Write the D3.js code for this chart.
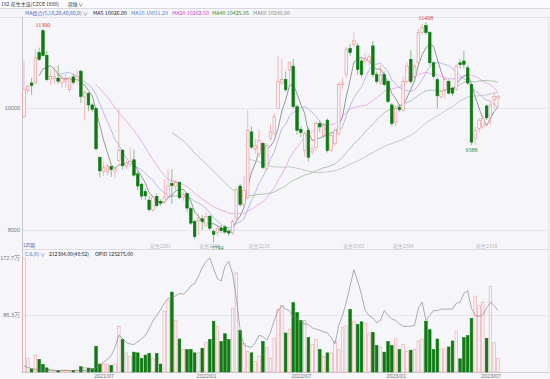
<!DOCTYPE html>
<html>
<head>
<meta charset="utf-8">
<script src="https://cdn.jsdelivr.net/npm/d3@7"></script>
<style>
  body { margin: 0; background: #f6f6fa; }
  svg { display: block; font-family: "Noto Sans CJK SC", "Noto Sans", sans-serif; }
</style>
</head>
<body>
<div id="chart"></div>
<script>
// weekly candles, peanut main contract
var opens = [9856,10288,10410,10410,10908,11267,10863,10465,10480,10490,10420,10440,10300,10510,10470,10603,10180,10240,10050,9990,
  9192,8960,8950,9040,8960,9140,9310,9050,9080,9150,8920,8750,8630,8490,8330,8550,8470,8460,8550,8760,
  8720,8780,8530,8600,8350,8141,8150,8185,8075,8225,7975,7960,8030,8050,7980,7950,8200,8720,8420,8530,
  9608,9330,9250,9420,9000,9497,9580,9995,10410,10465,10620,10686,10022,9650,9303,9635,9280,9358,9746,9552,
  9801,9303,9414,9580,10382,10548,10974,11046,11018,10770,10770,10770,11018,10548,10410,10548,10437,10050,9770,10010,
  9967,10437,10797,10520,10742,11240,11350,11240,10742,10465,10188,10300,10437,10327,10299,10740,10770,10659,10382,9497,
  9663,9690,10033,9850,10133,10160];
var highs = [10769,10380,10493,10963,10990,11300,10935,10620,10680,10700,10550,10560,10520,10560,10620,10630,10290,10260,10080,10010,
  9200,9120,9080,9060,9050,9995,9320,9130,9350,9320,8960,8780,8680,8560,8560,8600,8500,8830,9000,9000,
  8820,8800,8640,8610,8380,8170,8260,8250,8300,8250,8010,8060,8080,8090,8020,8170,8700,8760,8890,9967,
  9700,9500,9650,9450,9420,9745,9910,10852,10800,10600,10770,10800,10050,9700,9620,9680,9380,9790,9800,9760,
  9830,9600,9680,10420,10500,11000,11050,11240,11060,10800,10900,10880,11100,10600,10700,10600,10470,10080,10020,10060,
  10520,10750,10950,10720,11300,11380,11408,11260,10760,10500,10300,10490,10470,10350,10720,10800,10935,10700,10400,9700,
  9830,9880,10060,10100,10250,10220];
var lows = [9840,10240,10216,10390,10770,10840,10437,10370,10390,10390,10330,10330,10250,10380,10400,10080,9800,9950,9930,9300,
  8860,8880,8890,8870,8860,9120,8990,9000,9030,8870,8650,8500,8490,8300,8300,8370,8400,8420,8520,8430,
  8650,8500,8480,8300,8080,7850,7920,8000,8050,7990,7794,7900,7950,7940,7900,7920,8150,8380,8400,8500,
  9330,9250,9200,9000,8980,9470,9550,9990,10380,10270,10350,9990,9560,9520,9200,9120,9240,9300,9600,9500,
  9270,9280,9380,9550,10300,10500,10850,11000,10550,10500,10700,10700,10500,10400,10380,10350,10080,9700,9700,9940,
  9940,10400,10400,10480,10700,11200,11200,10700,10480,9990,10150,10150,10220,10200,10280,10650,10650,10380,9388,9400,
  9600,9650,9800,9720,10000,10020];
var closes = [10299,10354,10370,10825,10797,10863,10465,10520,10520,10440,10480,10470,10490,10420,10520,10188,10260,10050,9980,9331,
  8970,9020,9050,8990,9000,9300,9054,9100,9120,8900,8722,8556,8560,8336,8540,8400,8440,8540,8720,8730,
  8780,8530,8580,8360,8113,7892,8200,8141,8220,8030,7930,8030,7990,7966,7950,8141,8667,8418,8650,9635,
  9359,9385,9470,9026,9386,9608,9856,10437,10465,10299,10740,10022,9635,9600,9580,9193,9330,9746,9690,9718,
  9303,9552,9635,10382,10410,10963,10908,11101,10631,10548,10810,10840,10548,10437,10540,10382,10105,9746,9995,9975,
  10437,10686,10437,10686,11240,11323,11240,10742,10520,10200,10271,10465,10244,10244,10686,10710,10714,10410,9441,9635,
  9801,9830,9840,10050,10190,10190];
// volume, 万手
var volumes = [172.7,20.6,4.6,25.7,19,11.3,6.2,3.6,3,2,2,3,2.5,2.5,3,8,7,6,5,39,
  12,12,12,10,12,69,49,29,24,30,29,20.6,25.7,28,20.6,28,12,91.5,109,121,
  78,50,34,34,34,29,29,36,45,49,77,69,46,58,49,96,150,63,43,31,
  29,16,24,46,37,20.6,51,95,101,59,65,105,90,78,78,52,42,49,34,24,
  29,29,46,34,67,70,95,77,72,76,74,58,60,40,38,30,46,40,50,34,
  42,31,33,34,47,50,77,64,34,50,35,35,38,47,61,20,52,55,81,115,
  101,106,51,130,45,20.6];
// open interest
var openInt = [12000,9000,7000,5000,5000,4000,4000,4000,3000,3000,3000,3000,3000,3000,3000,3000,3000,4000,5000,8000,
  14000,20000,26000,33000,50000,75000,68000,60000,57000,56000,62000,67000,75000,88000,104000,115000,126000,140000,150000,152000,
  155000,160000,158000,165000,175000,180000,195000,212000,225000,232000,210000,190000,185000,215000,225000,200000,150000,85000,55000,52000,
  50000,60000,75000,72000,65000,80000,105000,125000,135000,128000,125000,112000,108000,102000,98000,97000,90000,87000,85000,82000,
  80000,70000,57000,95000,115000,142000,175000,208000,185000,158000,125000,115000,110000,100000,105000,125000,115000,108000,105000,98000,
  93000,93000,93000,95000,130000,142000,105000,115000,125000,125000,128000,128000,128000,128000,140000,142000,160000,165000,130000,115000,
  113000,117000,130000,142000,135000,125275];

var tickIdx = [21, 48, 73, 98, 123];
var tickLabels = ["2021/07", "2022/01", "2022/07", "2023/01", "2023/07"];
var priceTicks = [8000, 10000];
var volTicks = [86.3, 172.7];
var rollIdx = [36, 49, 62, 87, 100, 122];
var rollLabels = ["花生2201", "花生2204", "花生2210", "花生2301", "花生2304", "花生2310"];
var peakIdx = [5, 106];
var troughIdx = [50, 118];
var maPeriods = [5, 10, 20, 40, 60];
var maColors = ["#555555", "#8797d6", "#e27ddc", "#7ea67a", "#aaaaaa"];

var width = 550, height = 379;
var N = closes.length;
var up = "#ee8e8e", down = "#0d7a12";

var svg = d3.select("#chart").append("svg")
  .attr("width", width).attr("height", height);

svg.append("rect").attr("width", width).attr("height", height).attr("fill", "#f6f6fa");
svg.append("rect").attr("width", width).attr("height", 8).attr("fill", "#fbfbfd");

var x = d3.scalePoint().domain(d3.range(N)).range([24, 498]);
var y = d3.scaleLinear().domain([8000, 10000]).range([230, 108]);
var yv = d3.scaleLinear().domain([0, 172.7]).range([372, 258]);
var yo = d3.scaleLinear().domain([0, 232000]).range([372, 258]);

// frame lines
svg.append("line").attr("x1", 0).attr("x2", width).attr("y1", 8.5).attr("y2", 8.5).attr("stroke", "#d8d8e0");
svg.append("line").attr("x1", 0).attr("x2", width).attr("y1", 17.5).attr("y2", 17.5).attr("stroke", "#e2e2ea");
svg.append("line").attr("x1", 22).attr("x2", width).attr("y1", 249.5).attr("y2", 249.5).attr("stroke", "#dcdce4");
svg.append("line").attr("x1", 22).attr("x2", width).attr("y1", 372.5).attr("y2", 372.5).attr("stroke", "#cfcfd8");
svg.append("line").attr("x1", 22.5).attr("x2", 22.5).attr("y1", 17).attr("y2", 373).attr("stroke", "#c4c4cc");
svg.append("line").attr("x1", 548.5).attr("x2", 548.5).attr("y1", 17).attr("y2", 373).attr("stroke", "#e4e4ea");

// grid
svg.append("g").selectAll("line").data(priceTicks).join("line")
  .attr("x1", 23).attr("x2", 548).attr("y1", d => Math.round(y(d)) + 0.5).attr("y2", d => Math.round(y(d)) + 0.5)
  .attr("stroke", "#e6e6ee");
svg.append("g").selectAll("line").data(volTicks.slice(0, 1)).join("line")
  .attr("x1", 23).attr("x2", 548).attr("y1", d => Math.round(yv(d)) + 0.5).attr("y2", d => Math.round(yv(d)) + 0.5)
  .attr("stroke", "#e6e6ee");

// axes
var ay = svg.append("g").attr("transform", "translate(21,0)")
  .call(d3.axisLeft(y).tickValues(priceTicks).tickSize(0).tickPadding(1).tickFormat(d3.format("d")));
var av = svg.append("g").attr("transform", "translate(21,0)")
  .call(d3.axisLeft(yv).tickValues(volTicks).tickSize(0).tickPadding(1).tickFormat(d => d + "万"));
var ax = svg.append("g").attr("transform", "translate(0,372)")
  .call(d3.axisBottom(x).tickValues(tickIdx).tickSize(0).tickPadding(2)
    .tickFormat(d => tickLabels[tickIdx.indexOf(d)]));
[ay, av, ax].forEach(function(a) {
  a.select(".domain").remove();
  a.selectAll("text").attr("font-size", 5.5).attr("fill", "#777")
    .style("font-family", "'Liberation Sans', sans-serif");
});

// contract roll labels
svg.append("g").selectAll("text").data(rollIdx).join("text")
  .attr("x", d => x(d)).attr("y", 248).attr("text-anchor", "middle")
  .attr("font-size", 5).attr("fill", "#b4b4bc")
  .text((d, i) => rollLabels[i]);

// volume bars
var bw = 2.6;
svg.append("g").selectAll("rect").data(volumes).join("rect")
  .attr("x", (d, i) => x(i) - bw / 2)
  .attr("y", d => yv(d))
  .attr("width", bw)
  .attr("height", d => yv(0) - yv(d))
  .attr("fill", (d, i) => closes[i] >= opens[i] ? "none" : down)
  .attr("stroke", (d, i) => closes[i] >= opens[i] ? "#f2a2a2" : down)
  .attr("stroke-width", 0.6);

// open interest line
svg.append("path").datum(openInt)
  .attr("fill", "none").attr("stroke", "#7a7a7a").attr("stroke-width", 0.6)
  .attr("d", d3.line().x((d, i) => x(i)).y(d => yo(d)));

// moving averages
maPeriods.forEach(function(n, k) {
  var ma = closes.map(function(c, i) {
    return i < n - 1 ? null : d3.mean(closes.slice(i - n + 1, i + 1));
  });
  svg.append("path").datum(ma)
    .attr("fill", "none").attr("stroke", maColors[k]).attr("stroke-width", 0.6)
    .attr("d", d3.line().defined(d => d != null).x((d, i) => x(i)).y(d => y(d)));
});

// candles
var cg = svg.append("g").selectAll("g").data(closes).join("g");
cg.append("line")
  .attr("x1", (d, i) => x(i)).attr("x2", (d, i) => x(i))
  .attr("y1", (d, i) => y(highs[i])).attr("y2", (d, i) => y(lows[i]))
  .attr("stroke", (d, i) => d >= opens[i] ? up : "#3f9a44").attr("stroke-width", 0.6);
cg.append("rect")
  .attr("x", (d, i) => x(i) - bw / 2)
  .attr("y", (d, i) => y(Math.max(d, opens[i])))
  .attr("width", bw)
  .attr("height", (d, i) => Math.max(1, Math.abs(y(d) - y(opens[i]))))
  .attr("fill", (d, i) => d >= opens[i] ? "#f6f6fa" : down)
  .attr("stroke", (d, i) => d >= opens[i] ? up : down)
  .attr("stroke-width", 0.6);

// high / low markers
svg.append("g").selectAll("text").data(peakIdx).join("text")
  .attr("x", d => x(d)).attr("y", d => y(highs[d]) - 2).attr("text-anchor", "middle")
  .attr("font-size", 6).attr("fill", "#e0393b").style("font-family", "'Liberation Serif', serif")
  .text(d => highs[d]);
svg.append("g").selectAll("text").data(troughIdx).join("text")
  .attr("x", d => x(d) + (d === troughIdx[0] ? 4 : 0)).attr("y", d => y(lows[d]) + 7).attr("text-anchor", "middle")
  .attr("font-size", 6).attr("fill", "#2e8f3a").style("font-family", "'Liberation Serif', serif")
  .text(d => lows[d]);

// header texts
function txt(s, xx, yy, col, w) {
  var t = svg.append("text").attr("x", xx).attr("y", yy).attr("font-size", 5)
    .attr("fill", col).text(s);
  if (w) t.attr("textLength", w).attr("lengthAdjust", "spacingAndGlyphs");
}
txt("192 花生主连(CZCE  1880)", 1, 6, "#333", 58);
txt("周线 ∨", 68, 6, "#333", 15);
txt("MA组合(5,10,20,40,60,0) ∨", 25, 14.5, "#4a6cc0", 63);
txt("MA5 10026.80", 93, 14.5, "#222", 34);
txt("MA10 10011.29", 131, 14.5, "#5a7ad0", 37);
txt("MA20 10262.50", 172, 14.5, "#d040c8", 37);
txt("MA40 10425.95", 212, 14.5, "#2f8a2f", 37);
txt("MA60 10249.80", 253, 14.5, "#888", 37);
txt("125周", 23, 246.5, "#3a4a9a", 12);
txt("CJL(0) ∨", 25, 256, "#4a6cc0", 20);
txt("212384.00(48:52)", 49, 256, "#222", 40);
txt("OPID 125275.00", 95, 256, "#222", 38);
</script>
</body>
</html>
